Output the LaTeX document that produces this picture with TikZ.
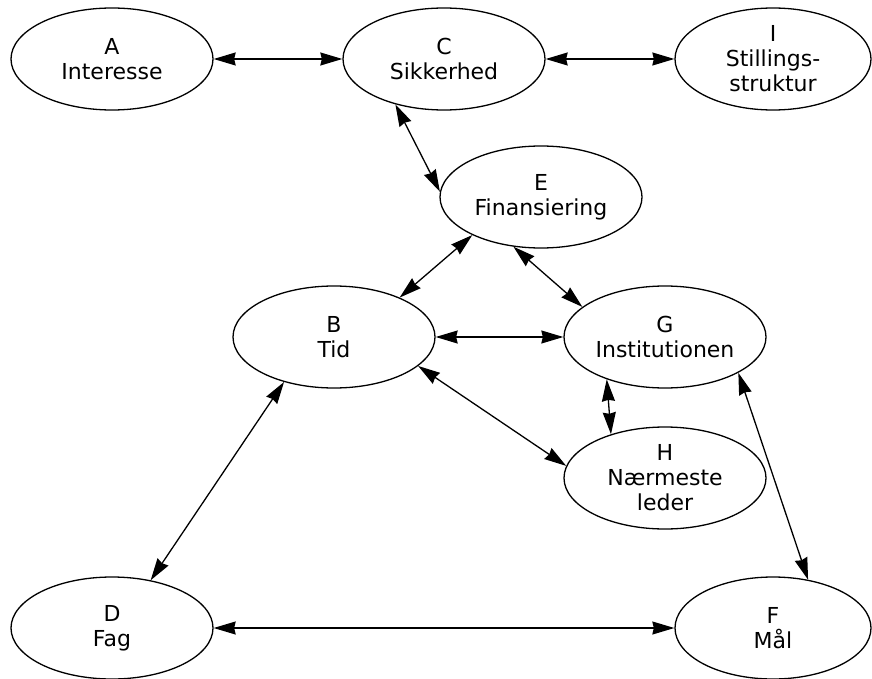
\documentclass[tikz,border=0pt]{standalone}
\usepackage{fontspec}
\setmainfont{DejaVu Sans}
\usetikzlibrary{shapes.geometric,arrows.meta}

\begin{document}
\begin{tikzpicture}[x=1pt, y=-1pt, line width=1.3pt,
  factor/.style={ellipse, draw, minimum width=202pt, minimum height=102pt,
    inner sep=0pt, align=center, font=\fontsize{22}{25}\selectfont},
  >={Stealth[length=22pt,width=13pt,inset=1.5pt]}]
  \useasboundingbox (0,0) rectangle (872,679);
  \node[factor] (A) at (112,59) {A\\Interesse};
  \node[factor] (C) at (444,59) {C\\Sikkerhed};
  \node[factor, minimum width=196pt] (I) at (773,59) {I\\Stillings-\\struktur};
  \node[factor] (E) at (541,197) {E\\Finansiering};
  \node[factor] (B) at (334,337) {B\\Tid};
  \node[factor] (G) at (665,337) {G\\Institutionen};
  \node[factor] (H) at (665,478) {H\\Nærmeste\\leder};
  \node[factor] (D) at (112,628) {D\\Fag};
  \node[factor, minimum width=196pt] (F) at (773,628) {F\\Mål};
  \path[<->]
  (A) edge (C)
  (C) edge (I)
  (C.223) edge (E.177)
  (E.209) edge (B.31)
  (E.241) edge (G.160)
  (B) edge (G)
  (B.341) edge (H.173)
  (G.216) edge (H.141)
  (G.334) edge (F.54)
  (D.51) edge (B.222)
  (D) edge (F);
\end{tikzpicture}
\end{document}
